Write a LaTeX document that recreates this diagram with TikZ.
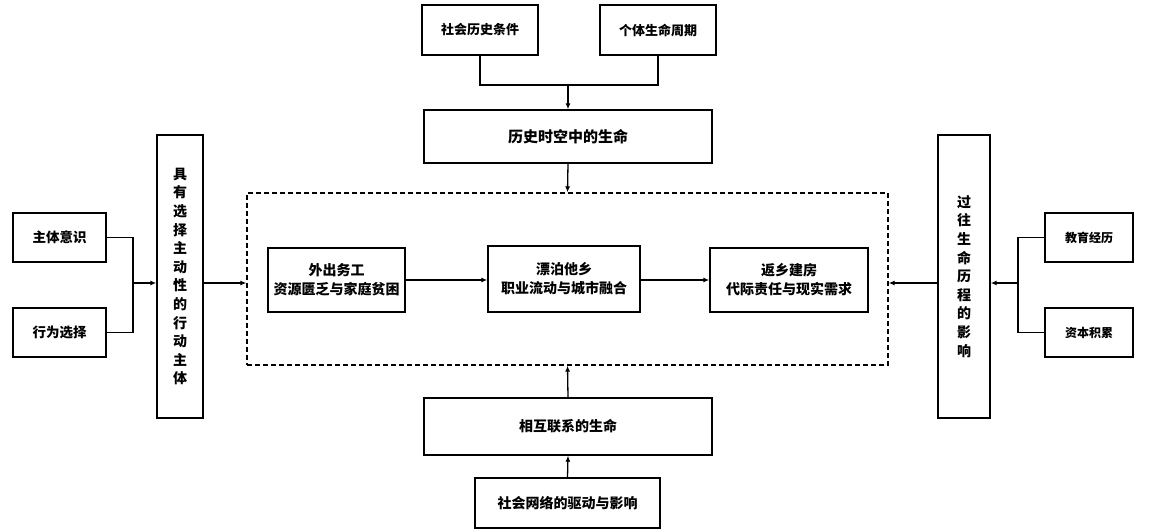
\documentclass[tikz,border=0pt]{standalone}
\usepackage{fontspec}
\setmainfont{Noto Sans CJK SC}
\usetikzlibrary{arrows.meta}
\begin{document}
\begin{tikzpicture}[x=1pt,y=-1pt,
  box/.style={draw=black,line width=1.4pt,fill=white,inner sep=0pt,align=center,font=\fontsize{13}{16}\selectfont\bfseries},
  vbox/.style={box,font=\fontsize{14}{18.6}\selectfont\bfseries},
  conn/.style={line width=1.3pt,draw=black},
  arr/.style={conn,-{Latex[length=6pt,width=5pt]}}]
\useasboundingbox (0,0) rectangle (1152,531);
\fill[white] (0,0) rectangle (1152,531);
% top
\node[box,minimum width=116pt,minimum height=50pt] (t1) at (480,30) {社会历史条件};
\node[box,minimum width=116pt,minimum height=50pt] (t2) at (658,30) {个体生命周期};
\node[box,minimum width=288pt,minimum height=53pt,font=\fontsize{15}{18}\selectfont\bfseries] (hist) at (568,136.5) {历史时空中的生命};
\coordinate (tj) at (568,85);
\draw[conn] (t1.south) |- (tj);
\draw[conn] (t2.south) |- (tj);
\draw[arr] (tj) -- (hist.north);
% dashed frame
\node[draw=black,dash pattern=on 5pt off 3pt,line width=1.3pt,minimum width=641pt,minimum height=172pt,inner sep=0pt] (frame) at (567.5,279) {};
\draw[arr] (hist.south) -- (frame.north);
% inner boxes
\node[box,minimum width=137pt,minimum height=64pt,font=\fontsize{14}{19}\selectfont\bfseries] (b1) at (336.5,280) {外出务工\\资源匮乏与家庭贫困};
\node[box,minimum width=152pt,minimum height=66pt,font=\fontsize{14}{19}\selectfont\bfseries] (b2) at (564,279) {漂泊他乡\\职业流动与城市融合};
\node[box,minimum width=158pt,minimum height=64pt,font=\fontsize{14}{19}\selectfont\bfseries] (b3) at (789,280) {返乡建房\\代际责任与现实需求};
\draw[arr] (b1.east) -- (b2.west |- b1.east);
\draw[arr] (b2.east |- b3.west) -- (b3.west);
% bottom
\node[box,minimum width=288pt,minimum height=57pt,font=\fontsize{14}{18}\selectfont\bfseries] (link) at (568,426.5) {相互联系的生命};
\node[box,minimum width=185pt,minimum height=50pt,font=\fontsize{14}{18}\selectfont\bfseries] (net) at (567.5,503) {社会网络的驱动与影响};
\draw[arr] (link.north) -- (frame.south);
\draw[arr] (net.north) -- (link.south);
% left
\node[box,minimum width=93pt,minimum height=49pt,font=\fontsize{13.5}{16}\selectfont\bfseries] (l1) at (59.5,237.5) {主体意识};
\node[box,minimum width=93pt,minimum height=49pt,font=\fontsize{13.5}{16}\selectfont\bfseries] (l2) at (59.5,332.5) {行为选择};
\node[vbox,minimum width=46pt,minimum height=283pt] (agent) at (180,276.5) {具\\有\\选\\择\\主\\动\\性\\的\\行\\动\\主\\体};
\coordinate (lj) at (133,283);
\draw[conn] (l1.east) -| (lj);
\draw[conn] (l2.east) -| (lj);
\draw[arr] (lj) -- (agent.west |- lj);
\draw[arr] (agent.east |- 0,283) -- (frame.west |- 0,283);
% right
\node[box,minimum width=88pt,minimum height=49pt,font=\fontsize{12}{15}\selectfont\bfseries] (r1) at (1089,237.5) {教育经历};
\node[box,minimum width=88pt,minimum height=49pt,font=\fontsize{12}{15}\selectfont\bfseries] (r2) at (1089,332.5) {资本积累};
\node[vbox,minimum width=52pt,minimum height=283pt] (past) at (964,276.5) {过\\往\\生\\命\\历\\程\\的\\影\\响};
\coordinate (rj) at (1018,283);
\draw[conn] (r1.west) -| (rj);
\draw[conn] (r2.west) -| (rj);
\draw[arr] (rj) -- (past.east |- rj);
\draw[arr] (past.west |- 0,283) -- (frame.east |- 0,283);
\end{tikzpicture}
\end{document}
